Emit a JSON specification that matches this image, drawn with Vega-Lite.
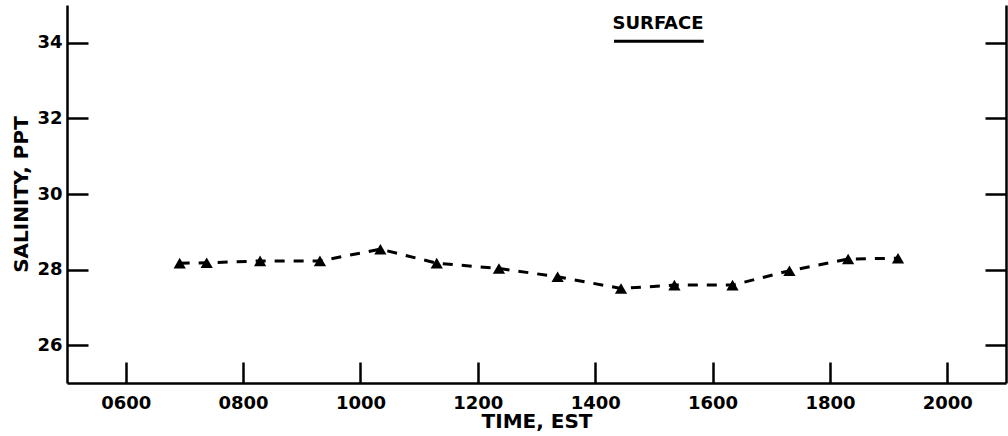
{
  "$schema": "https://vega.github.io/schema/vega-lite/v6.json",
  "autosize": "none",
  "width": 939,
  "height": 378,
  "padding": {"left": 67, "top": 5, "right": 2, "bottom": 53},
  "background": "white",
  "config": {
    "view": {"stroke": null},
    "axis": {
      "labelFont": "DejaVu Sans", "labelFontWeight": "bold", "labelFontSize": 18, "labelColor": "black",
      "titleFont": "DejaVu Sans", "titleFontWeight": "bold", "titleFontSize": 20, "titleColor": "black",
      "domainColor": "black", "domainWidth": 2.5, "tickColor": "black", "tickWidth": 2.5,
      "grid": false
    }
  },
  "datasets": {
    "salinity": [
      {"time": 6.92, "sal": 28.17},
      {"time": 7.38, "sal": 28.18},
      {"time": 8.29, "sal": 28.23},
      {"time": 9.31, "sal": 28.23},
      {"time": 10.34, "sal": 28.54},
      {"time": 11.30, "sal": 28.17},
      {"time": 12.36, "sal": 28.03},
      {"time": 13.36, "sal": 27.81},
      {"time": 14.44, "sal": 27.50},
      {"time": 15.35, "sal": 27.59},
      {"time": 16.34, "sal": 27.59},
      {"time": 17.31, "sal": 27.97},
      {"time": 18.31, "sal": 28.28},
      {"time": 19.16, "sal": 28.30}
    ],
    "label": [
      {"time": 15.07, "time2": 15.85, "start": 14.32, "sal": 34.49, "line": 34.04, "text": "SURFACE"}
    ]
  },
  "layer": [
    {
      "data": {"name": "salinity"},
      "mark": {"type": "line", "color": "black", "strokeWidth": 3, "strokeDash": [10, 9]},
      "encoding": {
        "x": {"field": "time", "type": "quantitative", "title": "TIME, EST",
          "scale": {"domain": [5, 21], "nice": false, "zero": false},
          "axis": {"values": [6, 8, 10, 12, 14, 16, 18, 20], "tickSize": -21, "labelPadding": 32,
            "labelExpr": "(datum.value < 10 ? '0' : '') + datum.value + '00'",
            "titleY": 38, "titleBaseline": "middle"}},
        "y": {"field": "sal", "type": "quantitative", "title": "SALINITY, PPT",
          "scale": {"domain": [25, 35], "nice": false, "zero": false},
          "axis": {"orient": "left", "values": [26, 28, 30, 32, 34], "tickSize": -21, "labelPadding": 26,
            "titleX": -46, "titleY": 189, "titleBaseline": "middle", "titleAlign": "center"}}
      }
    },
    {
      "data": {"name": "salinity"},
      "mark": {"type": "point", "shape": "triangle-up", "filled": true, "color": "black", "size": 150, "opacity": 1},
      "encoding": {
        "x": {"field": "time", "type": "quantitative", "title": "TIME, EST"},
        "y": {"field": "sal", "type": "quantitative", "title": "SALINITY, PPT",
          "axis": {"orient": "right", "values": [26, 28, 30, 32, 34], "tickSize": -21, "labels": false, "title": null}}
      }
    },
    {
      "data": {"name": "label"},
      "mark": {"type": "text", "font": "DejaVu Sans", "fontWeight": "bold", "fontSize": 18, "color": "black", "baseline": "middle", "align": "center"},
      "encoding": {
        "x": {"field": "time", "type": "quantitative", "title": "TIME, EST"},
        "y": {"field": "sal", "type": "quantitative", "axis": null},
        "text": {"field": "text"}
      }
    },
    {
      "data": {"name": "label"},
      "mark": {"type": "rule", "color": "black", "strokeWidth": 3},
      "encoding": {
        "x": {"field": "start", "type": "quantitative", "title": "TIME, EST"},
        "x2": {"field": "time2"},
        "y": {"field": "line", "type": "quantitative", "axis": null}
      }
    }
  ],
  "resolve": {"axis": {"y": "independent"}}
}
